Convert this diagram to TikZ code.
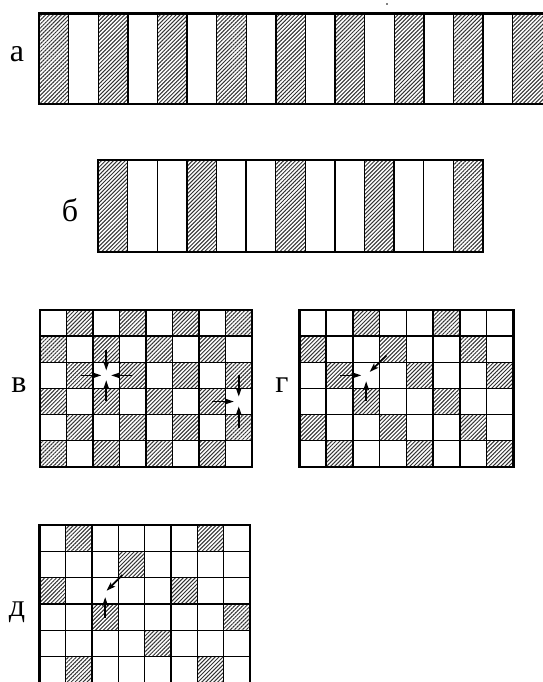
\documentclass[tikz,border=0pt]{standalone}
\usepackage{fontspec}
\setmainfont{Liberation Serif}
\usetikzlibrary{patterns.meta,arrows.meta}
\tikzset{
  hatch/.style={pattern={Lines[angle=45,distance=2.8pt,line width=1pt]},pattern color=black!80},
  innerline/.style={line width=1.4pt},
  frame/.style={line width=2.6pt},
  lbl/.style={font=\fontsize{32}{34}\selectfont, inner sep=0pt},
  movearrow/.style={line width=1.7pt,-{Stealth[length=9pt,width=6pt,inset=2pt]}},
}
\begin{document}
\begin{tikzpicture}[x=1pt,y=-1pt]
\useasboundingbox (0,0) rectangle (542,682);
\fill (387,4) circle (0.9);
% ---------- panel a
\begin{scope}[shift={(39,13.5)}, x=29.6pt]
  \foreach \i in {0,2,...,14} \fill[hatch] (\i,0) rectangle ++(1,90.5);
  \fill[hatch] (16,0) rectangle (17.4,90.5);
  \foreach \i in {1,...,16} \draw[innerline] (\i,0) -- (\i,90.5);
  \draw[frame] (0,0) rectangle (17.4,90.5);
\end{scope}
\node[lbl] (la) at (17,54) {а};
% ---------- panel b
\begin{scope}[shift={(98,160)}, x=29.6pt]
  \foreach \i in {0,3,...,12} \fill[hatch] (\i,0) rectangle ++(1,92);
  \foreach \i in {1,...,12} \draw[innerline] (\i,0) -- (\i,92);
  \draw[frame] (0,0) rectangle (13,92);
\end{scope}
\node[lbl] (lb) at (70,210) {б};
% ---------- panel v
\begin{scope}[shift={(40,310)}, x=26.5pt, y=-26.15pt]
  \foreach \c in {0,...,7}{\foreach \r in {0,...,5}{%
    \pgfmathparse{int(mod(\c+\r,2))}%
    \ifnum\pgfmathresult=1 \fill[hatch] (\c,\r) rectangle ++(1,1);\fi}}
  \foreach \c in {1,...,7} \draw[innerline] (\c,0) -- (\c,6);
  \foreach \r in {1,...,5} \draw[innerline] (0,\r) -- (8,\r);
  \draw[frame] (0,0) rectangle (8,6);
  \coordinate (v1) at (2.5,2.5);
  \coordinate (v1l) at (1.5,2.5);
  \coordinate (v1r) at (3.5,2.5);
  \coordinate (v1t) at (2.5,1.5);
  \coordinate (v1b) at (2.5,3.5);
  \coordinate (v2) at (7.5,3.5);
  \coordinate (v2l) at (6.5,3.5);
  \coordinate (v2t) at (7.5,2.5);
  \coordinate (v2b) at (7.5,4.5);
  \foreach \s in {v1l,v1r,v1t,v1b}
    \draw[movearrow, shorten <=1pt, shorten >=5pt] (\s) -- (v1);
  \foreach \s in {v2l,v2t,v2b}
    \draw[movearrow, shorten <=0pt, shorten >=5pt] (\s) -- (v2);
\end{scope}
\node[lbl] (lv) at (19,385) {в};
% ---------- panel g
\begin{scope}[shift={(299.3,310)}, x=26.75pt, y=-26.15pt]
  \foreach \c in {0,...,7}{\foreach \r in {0,...,5}{%
    \pgfmathparse{int(mod(\c-\r+30,3))}%
    \ifnum\pgfmathresult=2 \fill[hatch] (\c,\r) rectangle ++(1,1);\fi}}
  \foreach \c in {1,...,7} \draw[innerline] (\c,0) -- (\c,6);
  \foreach \r in {1,...,5} \draw[innerline] (0,\r) -- (8,\r);
  \draw[frame] (0,0) rectangle (8,6);
  \coordinate (g1) at (2.5,2.5);
  \coordinate (g1l) at (1.5,2.5);
  \coordinate (g1b) at (2.5,3.5);
  \coordinate (g1d) at (3.5,1.5);
  \draw[movearrow, shorten <=1pt, shorten >=5pt] (g1l) -- (g1);
  \draw[movearrow, shorten <=1pt, shorten >=6pt] (g1b) -- (g1);
  \draw[movearrow, shorten <=9pt, shorten >=5pt] (g1d) -- (g1);
\end{scope}
\node[lbl] (lg) at (282,385) {г};
% ---------- panel d
\begin{scope}[shift={(39.3,525)}, x=26.35pt, y=-26.35pt]
  \foreach \c in {0,...,7}{\foreach \r in {0,...,5}{%
    \pgfmathparse{int(mod(\c+3*\r,5))}%
    \ifnum\pgfmathresult=1 \fill[hatch] (\c,\r) rectangle ++(1,1);\fi}}
  \foreach \c in {1,...,7} \draw[innerline] (\c,0) -- (\c,6);
  \foreach \r in {1,...,5} \draw[innerline] (0,\r) -- (8,\r);
  \draw[frame] (0,0) rectangle (8,6);
  \coordinate (d1) at (2.5,2.55);
  \coordinate (d1b) at (2.5,3.55);
  \coordinate (d1d) at (3.5,1.55);
  \draw[movearrow, shorten <=1pt, shorten >=5pt] (d1b) -- (d1);
  \draw[movearrow, shorten <=13pt, shorten >=2pt] (d1d) -- (d1);
\end{scope}
\node[lbl] (ld) at (17,612) {д};
\end{tikzpicture}
\end{document}
